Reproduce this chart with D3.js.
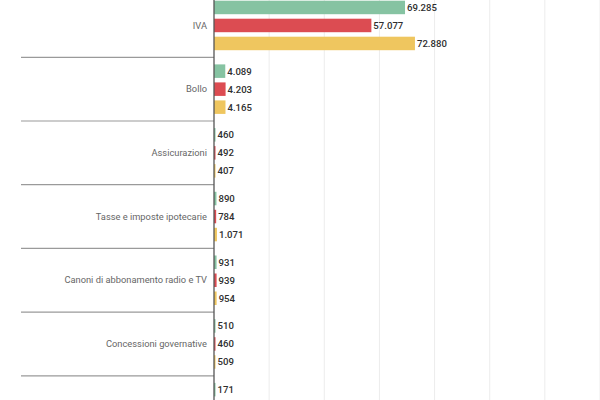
<!DOCTYPE html>
<html><head><meta charset="utf-8">
<script src="https://cdn.jsdelivr.net/npm/d3@7"></script>
<style>
html,body{margin:0;padding:0;background:#fff;}
svg{display:block;font-family:Roboto, "Noto Sans", sans-serif;}
</style></head>
<body>
<svg id="chart" width="600" height="400"></svg>
<script>
const categories = ["IVA","Bollo","Assicurazioni","Tasse e imposte ipotecarie","Canoni di abbonamento radio e TV","Concessioni governative","Altre imposte"];
const seriesNames = ["s1","s2","s3"];
const series1 = [69285, 4089, 460, 890, 931, 510, 171];
const series2 = [57077, 4203, 492, 784, 939, 460, 168];
const series3 = [72880, 4165, 407, 1071, 954, 509, 175];
const colors = ["#86c3a2","#dc4c52","#efc65f"];
const gridTicks = [0,20000,40000,60000,80000,100000,120000,140000];

const W = 600, H = 400;
const svg = d3.select("#chart");
const x = d3.scaleLinear().domain([0,140000]).range([214,600]);
const y = d3.scaleBand().domain(categories).range([-6.4, -6.4 + 63.7*categories.length]).paddingInner(0).paddingOuter(0);
const yi = d3.scaleBand().domain(seriesNames).range([0, y.bandwidth()]).paddingInner(0.25).paddingOuter(0.394);
const fmt = d3.formatLocale({decimal:",", thousands:".", grouping:[3], currency:["€",""]}).format(",d");

// gridlines
svg.append("g").selectAll("line").data(gridTicks.slice(1)).join("line")
  .attr("x1", d=>x(d)).attr("x2", d=>x(d)).attr("y1",0).attr("y2",H)
  .attr("stroke","#ececec").attr("stroke-width",1);

const data = categories.map((c,i)=>({cat:c, vals:[series1[i],series2[i],series3[i]]}));

// separators
svg.append("g").selectAll("line").data(categories.slice(1)).join("line")
  .attr("x1",21).attr("x2",x(0)).attr("y1",d=>y(d)).attr("y2",d=>y(d))
  .attr("stroke","#9a9a9a").attr("stroke-width",1.2);

const g = svg.append("g").selectAll("g").data(data).join("g")
  .attr("transform", d=>`translate(0,${y(d.cat)})`);

g.selectAll("rect").data(d=>d.vals.map((v,j)=>({v,s:seriesNames[j],j}))).join("rect")
  .attr("x", x(0)).attr("y", d=>yi(d.s)).attr("height", yi.bandwidth())
  .attr("width", d=>Math.max(1.5, x(d.v)-x(0))).attr("fill", d=>colors[d.j]);

g.selectAll("text.val").data(d=>d.vals.map((v,j)=>({v,s:seriesNames[j],j}))).join("text")
  .attr("class","val")
  .attr("x", d=>Math.max(x(0)+1.5, x(d.v)) + 2).attr("y", d=>yi(d.s)+yi.bandwidth()/2)
  .attr("dy","0.35em").attr("font-size",9.6).attr("font-weight",500).attr("fill","#2e2e2e")
  .text(d=>fmt(d.v));

g.append("text").attr("x",207).attr("y", y.bandwidth()/2).attr("dy","0.35em")
  .attr("text-anchor","end").attr("font-size",9.3).attr("fill","#666")
  .text(d=>d.cat);

// axis line
svg.append("line").attr("x1",x(0)).attr("x2",x(0)).attr("y1",0).attr("y2",H)
  .attr("stroke","#555").attr("stroke-width",1.3);
</script>
</body></html>
